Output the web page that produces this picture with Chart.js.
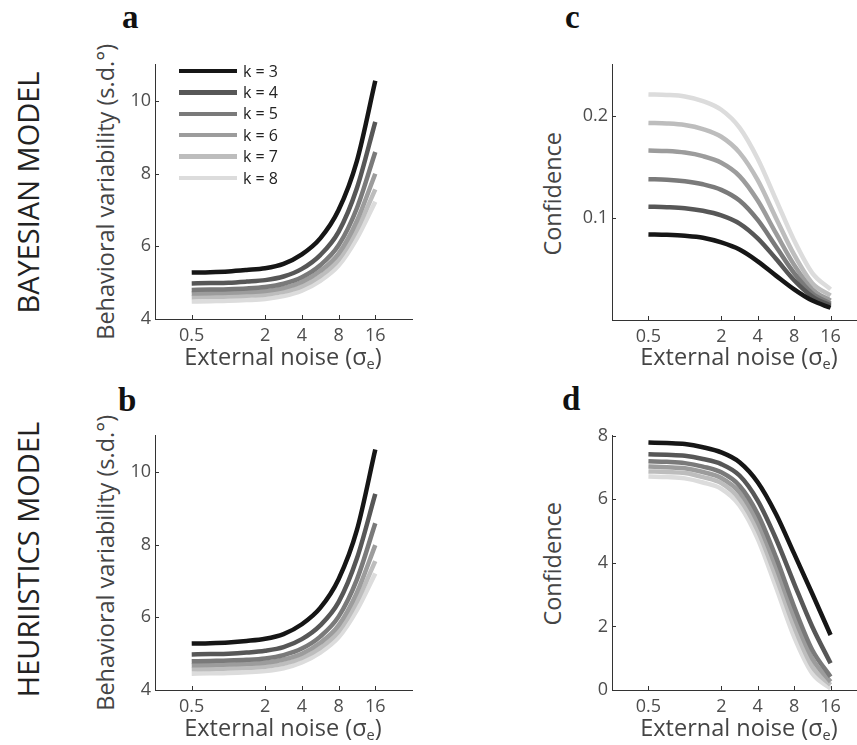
<!DOCTYPE html>
<html>
<head>
<meta charset="utf-8">
<script src="https://cdn.jsdelivr.net/npm/chart.js@4.4.1/dist/chart.umd.min.js"></script>
<style>
  body { margin: 0; width: 857px; height: 745px; overflow: hidden; background: #fff; position: relative; font-family: "Open Sans", sans-serif; }
  canvas { position: absolute; }
  .letter { position: absolute; font-family: "Liberation Serif", serif; font-weight: bold; font-size: 33px; line-height: 33px; color: #111; }
  .xtitle { position: absolute; width: 300px; text-align: center; font-size: 23.5px; line-height: 23.5px; color: #444; white-space: nowrap; }
  .ytitle { position: absolute; width: 400px; height: 23.5px; text-align: center; font-size: 23.5px; line-height: 23.5px; color: #444; white-space: nowrap; transform: rotate(-90deg); }
  .rowlabel { position: absolute; width: 400px; height: 29px; text-align: center; font-size: 29px; line-height: 29px; color: #222; white-space: nowrap; transform: rotate(-90deg); }
  .xtitle sub { font-size: 0.62em; vertical-align: -0.3em; line-height: 0; }
  .legend-line { position: absolute; height: 4.5px; }
  .legend-text { position: absolute; font-size: 16px; line-height: 16px; color: #222; white-space: nowrap; }
</style>
</head>
<body>

<div class="rowlabel" style="left:-173px; top:178px;">BAYESIAN MODEL</div>
<div class="rowlabel" style="left:-173px; top:545px;">HEURIISTICS MODEL</div>

<div class="letter" style="left:122px; top:1px;">a</div>
<div class="letter" style="left:118px; top:384px;">b</div>
<div class="letter" style="left:565px; top:1px;">c</div>
<div class="letter" style="left:562px; top:383px;">d</div>

<canvas id="chartA"></canvas>
<canvas id="chartB"></canvas>
<canvas id="chartC"></canvas>
<canvas id="chartD"></canvas>

<div class="ytitle" style="left:-94px; top:180px;">Behavioral variability (s.d.°)</div>
<div class="ytitle" style="left:-94px; top:551px;">Behavioral variability (s.d.°)</div>
<div class="ytitle" style="left:353px; top:182px;">Confidence</div>
<div class="ytitle" style="left:353px; top:552px;">Confidence</div>

<div class="xtitle" style="left:133px; top:345px;">External noise (σ<sub>e</sub>)</div>
<div class="xtitle" style="left:133px; top:716px;">External noise (σ<sub>e</sub>)</div>
<div class="xtitle" style="left:589px; top:345px;">External noise (σ<sub>e</sub>)</div>
<div class="xtitle" style="left:589px; top:716px;">External noise (σ<sub>e</sub>)</div>

<div id="legend"></div>

<script>
// external noise levels (log axis)
const xNoise = [0.5, 0.71, 1, 1.41, 2, 2.83, 4, 5.66, 8, 11.3, 16];
const xTicks = [0.5, 2, 4, 8, 16];
const xTickLabels = ['0.5', '2', '4', '8', '16'];

const kLabels = ['k = 3', 'k = 4', 'k = 5', 'k = 6', 'k = 7', 'k = 8'];
const kColors = ['#161616', '#575757', '#7a7a7a', '#9c9c9c', '#bdbdbd', '#dcdcdc'];

// a: bayesian model, behavioral variability, one row per k
const bayesVar = [
  [5.28, 5.29, 5.31, 5.35, 5.40, 5.52, 5.78, 6.22, 7.00, 8.35, 10.56],
  [4.98, 4.99, 5.00, 5.03, 5.07, 5.17, 5.38, 5.76, 6.40, 7.60, 9.43],
  [4.80, 4.81, 4.82, 4.84, 4.88, 4.97, 5.15, 5.48, 6.03, 7.05, 8.60],
  [4.70, 4.71, 4.72, 4.74, 4.77, 4.85, 5.02, 5.32, 5.80, 6.70, 8.00],
  [4.60, 4.61, 4.62, 4.64, 4.67, 4.75, 4.90, 5.18, 5.63, 6.45, 7.57],
  [4.48, 4.49, 4.50, 4.52, 4.55, 4.63, 4.78, 5.05, 5.47, 6.22, 7.23]
];
// b: heuristics model, behavioral variability
const heurVar = [
  [5.28, 5.29, 5.31, 5.35, 5.41, 5.54, 5.81, 6.26, 7.05, 8.40, 10.62],
  [4.98, 4.99, 5.00, 5.03, 5.08, 5.18, 5.40, 5.78, 6.42, 7.62, 9.40],
  [4.79, 4.80, 4.81, 4.83, 4.87, 4.96, 5.14, 5.47, 6.02, 7.04, 8.59],
  [4.68, 4.69, 4.70, 4.72, 4.75, 4.84, 5.00, 5.30, 5.78, 6.68, 7.99],
  [4.57, 4.58, 4.59, 4.61, 4.64, 4.72, 4.88, 5.16, 5.61, 6.43, 7.55],
  [4.45, 4.46, 4.47, 4.49, 4.52, 4.60, 4.76, 5.03, 5.45, 6.20, 7.21]
];
// c: bayesian model, confidence
const bayesConf = [
  [0.0838, 0.0834, 0.0825, 0.0806, 0.0760, 0.0690, 0.0575, 0.0435, 0.0300, 0.0190, 0.0120],
  [0.111, 0.1105, 0.1095, 0.107, 0.1025, 0.0945, 0.080, 0.060, 0.039, 0.023, 0.014],
  [0.138, 0.1375, 0.136, 0.133, 0.1275, 0.117, 0.098, 0.072, 0.046, 0.026, 0.016],
  [0.166, 0.1655, 0.164, 0.1605, 0.154, 0.141, 0.117, 0.085, 0.054, 0.030, 0.019],
  [0.193, 0.1925, 0.191, 0.187, 0.1795, 0.164, 0.137, 0.100, 0.064, 0.036, 0.024],
  [0.221, 0.2205, 0.219, 0.2145, 0.206, 0.1885, 0.158, 0.118, 0.078, 0.046, 0.030]
];
// d: heuristics model, confidence
const heurConf = [
  [7.79, 7.77, 7.74, 7.64, 7.48, 7.17, 6.54, 5.54, 4.29, 3.03, 1.73],
  [7.42, 7.40, 7.37, 7.27, 7.11, 6.75, 5.96, 4.76, 3.35, 1.99, 0.84],
  [7.20, 7.18, 7.14, 7.03, 6.85, 6.43, 5.54, 4.18, 2.62, 1.26, 0.42],
  [7.03, 7.01, 6.98, 6.86, 6.67, 6.22, 5.28, 3.87, 2.30, 0.99, 0.26],
  [6.88, 6.86, 6.83, 6.70, 6.51, 6.01, 5.02, 3.56, 1.99, 0.73, 0.16],
  [6.72, 6.70, 6.66, 6.53, 6.33, 5.81, 4.76, 3.24, 1.67, 0.52, 0.05]
];

const yTicksVar = [4, 6, 8, 10];
const yTicksBayesConf = [0.1, 0.2];
const yTicksHeurConf = [0, 2, 4, 6, 8];

// small inward tick marks, matlab style
const inTicks = {
  id: 'inTicks',
  afterDraw(chart) {
    const { ctx, chartArea, scales } = chart;
    ctx.save();
    ctx.strokeStyle = '#333';
    ctx.lineWidth = 1;
    ctx.beginPath();
    scales.x.ticks.forEach(t => {
      const px = Math.round(scales.x.getPixelForValue(t.value)) + 0.5;
      ctx.moveTo(px, chartArea.bottom);
      ctx.lineTo(px, chartArea.bottom - 4);
    });
    scales.y.ticks.forEach(t => {
      const py = Math.round(scales.y.getPixelForValue(t.value)) + 0.5;
      ctx.moveTo(chartArea.left, py);
      ctx.lineTo(chartArea.left + 4, py);
    });
    ctx.stroke();
    ctx.restore();
  }
};

function drawPanel(canvasId, area, series, yMin, yMax, yTicks) {
  const canvas = document.getElementById(canvasId);
  const left = area[0] - 30, top = area[1] - 14;
  canvas.width = area[2] + 8 - left;
  canvas.height = area[3] + 30 - top;
  canvas.style.left = left + 'px';
  canvas.style.top = top + 'px';

  const datasets = series.map((ys, i) => ({
    label: kLabels[i],
    data: ys.map((y, j) => ({ x: xNoise[j], y: y })),
    borderColor: kColors[i],
    borderWidth: 4.5,
    pointRadius: 0,
    fill: false,
    cubicInterpolationMode: 'monotone'
  }));

  new Chart(canvas.getContext('2d'), {
    type: 'line',
    data: { datasets: datasets },
    options: {
      responsive: false,
      animation: false,
      devicePixelRatio: 1,
      layout: { padding: { top: 14, right: 8, left: 0, bottom: 0 } },
      plugins: { legend: { display: false }, tooltip: { enabled: false } },
      scales: {
        x: {
          type: 'logarithmic',
          min: 0.25,
          max: 32,
          grid: { display: false, drawTicks: false },
          border: { display: true, color: '#333', width: 1 },
          afterBuildTicks: s => { s.ticks = xTicks.map(v => ({ value: v })); },
          afterFit: s => { s.height = 30; },
          ticks: {
            padding: 6,
            color: '#4d4d4d',
            font: { family: 'Open Sans', size: 18 },
            maxRotation: 0,
            autoSkip: false,
            callback: v => xTickLabels[xTicks.indexOf(v)]
          }
        },
        y: {
          type: 'linear',
          min: yMin,
          max: yMax,
          grid: { display: false, drawTicks: false },
          border: { display: true, color: '#333', width: 1 },
          afterBuildTicks: s => { s.ticks = yTicks.map(v => ({ value: v })); },
          afterFit: s => { s.width = 30; },
          ticks: {
            padding: 4,
            color: '#4d4d4d',
            font: { family: 'Open Sans', size: 18 },
            autoSkip: false,
            callback: v => String(v)
          }
        }
      }
    },
    plugins: [inTicks]
  });
}

drawPanel('chartA', [155, 64, 412, 319], bayesVar, 4, 11, yTicksVar);
drawPanel('chartB', [155, 435, 412, 690], heurVar, 4, 11, yTicksVar);
drawPanel('chartC', [612, 64, 867, 320], bayesConf, 0, 0.25, yTicksBayesConf);
drawPanel('chartD', [612, 435, 867, 690], heurConf, 0, 8, yTicksHeurConf);

// legend inside panel a
const legend = document.getElementById('legend');
kLabels.forEach((lab, i) => {
  const yc = 71 + i * 21.4;
  const line = document.createElement('div');
  line.className = 'legend-line';
  line.style.left = '179px';
  line.style.width = '58px';
  line.style.top = (yc - 2.25) + 'px';
  line.style.background = kColors[i];
  legend.appendChild(line);

  const txt = document.createElement('div');
  txt.className = 'legend-text';
  txt.style.left = '243px';
  txt.style.top = (yc - 8.5) + 'px';
  txt.textContent = lab;
  legend.appendChild(txt);
});
</script>
</body>
</html>
